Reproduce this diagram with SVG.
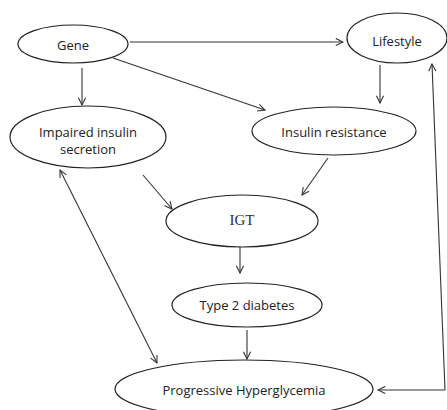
<svg xmlns="http://www.w3.org/2000/svg" width="447" height="410" viewBox="0 0 447 410">
<defs>
<marker id="ah" viewBox="0 0 10 10" refX="9" refY="5" markerWidth="9" markerHeight="9" orient="auto-start-reverse" markerUnits="userSpaceOnUse">
<path d="M1,1 L9,5 L1,9" fill="none" stroke="#333" stroke-width="1.2"/>
</marker>
</defs>
<style>
.n{fill:#fff;stroke:#222;stroke-width:1.2}
.t{font-family:"Open Sans","Liberation Sans",sans-serif;font-size:13px;fill:#222;text-anchor:middle}
.s{font-family:"Liberation Serif",serif;font-size:15px;fill:#333;text-anchor:middle}
.c{stroke:#333;stroke-width:1.1;fill:none;marker-end:url(#ah)}
</style>
<rect width="447" height="410" fill="#fff"/>
<g id="connectors">
<line class="c" x1="130" y1="42" x2="343" y2="42"/>
<line class="c" x1="82" y1="68" x2="82" y2="105"/>
<line class="c" x1="113" y1="58" x2="265" y2="110"/>
<line class="c" x1="380" y1="65" x2="380" y2="103"/>
<line class="c" x1="143" y1="175" x2="172" y2="209"/>
<line class="c" x1="328" y1="158" x2="302" y2="195"/>
<line class="c" x1="240" y1="245" x2="240" y2="273"/>
<line class="c" x1="247" y1="330" x2="247" y2="359"/>
<line class="c" x1="157" y1="363" x2="60" y2="170" style="marker-start:url(#ah)"/>
<polyline class="c" points="445,390 432,64"/>
<line class="c" x1="445" y1="390" x2="378" y2="390"/>
</g>
<g id="gene"><ellipse class="n" cx="73" cy="44" rx="55" ry="19"/><text class="t" x="73" y="45" dy="0.35em">Gene</text></g>
<g id="lifestyle"><ellipse class="n" cx="397" cy="38" rx="50" ry="25"/><text class="t" x="397" y="41" dy="0.35em">Lifestyle</text></g>
<g id="impaired"><ellipse class="n" cx="88" cy="137" rx="78" ry="31"/><text class="t" x="88" y="132" dy="0.35em">Impaired insulin</text><text class="t" x="88" y="149" dy="0.35em">secretion</text></g>
<g id="resistance"><ellipse class="n" cx="334" cy="131" rx="82" ry="24"/><text class="t" x="334" y="132" dy="0.35em">Insulin resistance</text></g>
<g id="igt"><ellipse class="n" cx="242" cy="221" rx="76" ry="26"/><text class="s" x="242" y="220" dy="0.35em">IGT</text></g>
<g id="t2d"><ellipse class="n" cx="247" cy="305" rx="75" ry="22"/><text class="t" x="247" y="305" dy="0.35em">Type 2 diabetes</text></g>
<g id="progressive"><ellipse class="n" cx="244" cy="389" rx="129" ry="29"/><text class="t" x="244" y="390" dy="0.35em">Progressive Hyperglycemia</text></g>
</svg>
